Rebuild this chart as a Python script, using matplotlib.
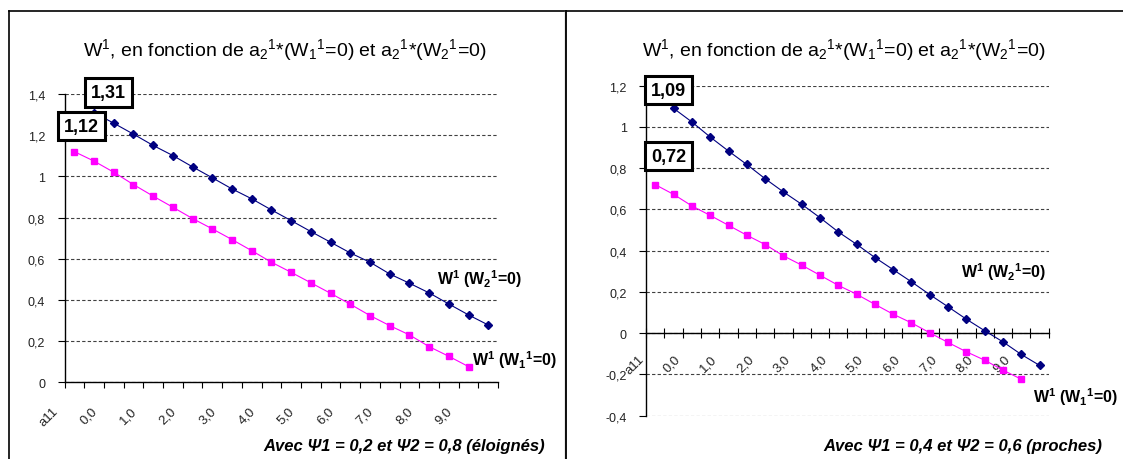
import numpy as np
import matplotlib
matplotlib.use("Agg")
import matplotlib.pyplot as plt
from matplotlib.lines import Line2D
from matplotlib.transforms import ScaledTranslation

plt.rcParams['font.family'] = ['Liberation Sans', 'DejaVu Sans']
plt.rcParams['mathtext.fontset'] = 'custom'
plt.rcParams['mathtext.rm'] = 'Liberation Sans'
plt.rcParams['mathtext.default'] = 'regular'

# ---------------- data ----------------
n_categories = 22
tick_labels = ["a11", "0,0", "1,0", "2,0", "3,0", "4,0", "5,0", "6,0", "7,0", "8,0", "9,0"]

# left chart : Psi1 = 0.2, Psi2 = 0.8
left_w_w1 = [1.12, 1.074, 1.020, 0.960, 0.904, 0.850, 0.795, 0.745, 0.693, 0.639, 0.583,
             0.534, 0.483, 0.432, 0.379, 0.324, 0.275, 0.230, 0.173, 0.126, 0.076]
left_w_w2 = [1.31, 1.258, 1.205, 1.150, 1.101, 1.046, 0.993, 0.939, 0.891, 0.837, 0.785,
             0.732, 0.680, 0.628, 0.583, 0.526, 0.481, 0.434, 0.380, 0.327, 0.278]

# right chart : Psi1 = 0.4, Psi2 = 0.6
right_w_w1 = [0.72, 0.673, 0.617, 0.571, 0.523, 0.475, 0.430, 0.375, 0.330, 0.281, 0.232,
              0.189, 0.140, 0.092, 0.050, 0.002, -0.045, -0.090, -0.131, -0.179, -0.223]
right_w_w2 = [1.09, 1.024, 0.951, 0.883, 0.818, 0.749, 0.685, 0.625, 0.560, 0.491, 0.431,
              0.367, 0.308, 0.249, 0.187, 0.128, 0.068, 0.012, -0.042, -0.103, -0.156]

title_text = "W$^1$, en fonction de a$_2$$^1$*(W$_1$$^1$=0) et a$_2$$^1$*(W$_2$$^1$=0)"
label_w2 = "W$^1$ (W$_2$$^1$=0)"
label_w1 = "W$^1$ (W$_1$$^1$=0)"
left_note = "Avec Ψ1 = 0,2 et Ψ2 = 0,8 (éloignés)"
right_note = "Avec Ψ1 = 0,4 et Ψ2 = 0,6 (proches)"

# ---------------- figure ----------------
W, H = 1123, 460
fig = plt.figure(figsize=(W / 100, H / 100), dpi=100)

def fx(px):
    return px / W

def fy(py):
    return 1 - py / H

def fmt_tick(v):
    v = round(float(v), 1) + 0.0
    return f"{v:g}".replace('.', ',')

def fmt_val(v):
    return f"{v:.2f}".replace('.', ',')

BLUE = '#000080'
MAG = '#ff00ff'

panels = [
    dict(rect=[fx(64.5), fy(383.3), fx(498.2 - 64.5), (383.3 - 95) / H],
         ylim=(0, 1.4), yt=np.arange(0, 1.41, 0.2),
         w1=left_w_w1, w2=left_w_w2, zero_axis=False,
         lab_dx=-14, lab_pad=16,
         box_w2=(14.6, 20.2), box_w1=(7, 25.5),
         leg_w2=(-8.6, 47), leg_w1=(45.5, 7.7),
         title_x=284.8, note_x=544.6, note=left_note),
    dict(rect=[fx(646.2), fy(416.7), fx(1048.7 - 646.2), (416.7 - 86.7) / H],
         ylim=(-0.4, 1.2), yt=np.arange(-0.4, 1.21, 0.2),
         w1=right_w_w1, w2=right_w_w2, zero_axis=True,
         lab_dx=-9, lab_pad=14,
         box_w2=(-5.3, 18.3), box_w1=(13.1, 28.5),
         leg_w2=(-35.5, 94.5), leg_w1=(54.6, -17.3),
         title_x=843.3, note_x=1102.3, note=right_note),
]

for p in panels:
    ax = fig.add_axes(p['rect'])
    ax.set_xlim(-0.5, n_categories - 0.5)
    ax.set_ylim(*p['ylim'])

    x1 = np.arange(len(p['w1']))          # W1 series starts at first category
    x2 = np.arange(len(p['w2'])) + 1      # W2 series starts at second category
    ax.plot(x2, p['w2'], color=BLUE, lw=0.8, marker='D', ms=4.4,
            mfc=BLUE, mec=BLUE, clip_on=False, zorder=4)
    ax.plot(x1, p['w1'], color=MAG, lw=0.8, marker='s', ms=5,
            mfc=MAG, mec=MAG, clip_on=False, zorder=4)

    # grid
    ax.set_yticks(p['yt'])
    ax.set_yticklabels([fmt_tick(v) for v in p['yt']])
    ax.yaxis.grid(True, linestyle=(0, (3, 2)), color='#404040', lw=0.8)
    ax.set_axisbelow(True)

    # spines
    for s in ['top', 'right']:
        ax.spines[s].set_visible(False)
    ax.spines['left'].set_color('black')
    ax.spines['bottom'].set_color('black')
    ax.spines['left'].set_linewidth(1)
    ax.spines['bottom'].set_linewidth(1)
    if p['zero_axis']:
        ax.spines['bottom'].set_position(('data', 0))

    # x ticks: marks at category boundaries, labels every two categories
    ax.set_xticks(np.arange(n_categories + 1) - 0.5)
    ax.set_xticklabels([])
    ax.set_xticks(np.arange(0, n_categories, 2), minor=True)
    ax.set_xticklabels(tick_labels, minor=True, rotation=45, ha='right', va='top',
                       fontsize=9.5, color='#222222')
    if p['zero_axis']:
        ax.tick_params(axis='x', which='major', direction='inout', length=7, width=0.8)
    else:
        ax.tick_params(axis='x', which='major', direction='out', length=4, width=0.8)
    ax.tick_params(axis='x', which='minor', length=0, pad=p['lab_pad'])
    ax.tick_params(axis='y', direction='out', length=5, width=0.8, pad=9,
                   labelsize=9, labelcolor='#222222')
    for t in ax.xaxis.get_minor_ticks():
        t.label1.set_transform(t.label1.get_transform() +
                               ScaledTranslation(p['lab_dx'] / 100, 0, fig.dpi_scale_trans))

    # value boxes on first points
    for xs, ys, off in [(x2, p['w2'], p['box_w2']), (x1, p['w1'], p['box_w1'])]:
        ax.annotate(fmt_val(ys[0]), xy=(xs[0], ys[0]), xytext=off,
                    textcoords='offset pixels', ha='center', va='center',
                    fontsize=13, fontweight='bold', zorder=6,
                    bbox=dict(boxstyle='square,pad=0.32', fc='white', ec='black', lw=2.2))

    # series names near last points
    ax.annotate(label_w2, xy=(x2[-1], p['w2'][-1]), xytext=p['leg_w2'],
                textcoords='offset pixels', ha='center', va='center',
                fontsize=11.5, fontweight='bold', annotation_clip=False)
    ax.annotate(label_w1, xy=(x1[-1], p['w1'][-1]), xytext=p['leg_w1'],
                textcoords='offset pixels', ha='center', va='center',
                fontsize=11.5, fontweight='bold', annotation_clip=False)

    fig.text(fx(p['title_x']), fy(50), title_text, ha='center', va='center', fontsize=14)
    fig.text(fx(p['note_x']), fy(447), p['note'], ha='right', va='center',
             fontsize=12, fontweight='bold', style='italic')

# outer frame
fig.add_artist(Line2D([fx(8.5), 1], [fy(11.5), fy(11.5)], color='black', lw=1.2,
                      transform=fig.transFigure))
fig.add_artist(Line2D([fx(8.5), fx(8.5)], [fy(11.5), 0], color='black', lw=1.2,
                      transform=fig.transFigure))
fig.add_artist(Line2D([fx(564.6), fx(564.6)], [fy(11.5), 0], color='#999999', lw=1,
                      transform=fig.transFigure))
fig.add_artist(Line2D([fx(566.3), fx(566.3)], [fy(11.5), 0], color='black', lw=1.3,
                      transform=fig.transFigure))

fig.savefig("out.png", dpi=100)
